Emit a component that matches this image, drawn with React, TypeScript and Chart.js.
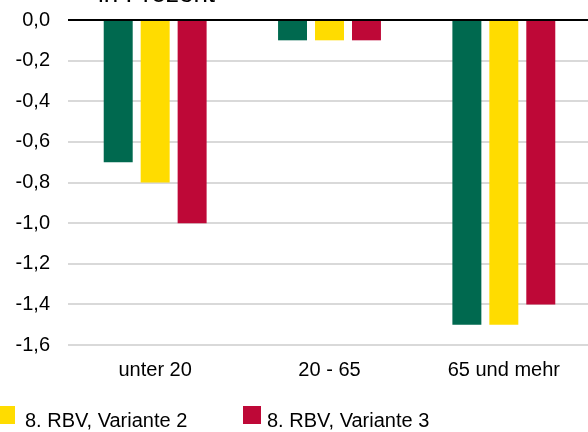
import React, { useEffect, useRef } from "react";
import { Chart, registerables } from "chart.js";

Chart.register(...registerables);

const categories = ["unter 20", "20 - 65", "65 und mehr"];
const seriesNames = ["8. RBV, Variante 1", "8. RBV, Variante 2", "8. RBV, Variante 3"];
const variante1 = [-0.7, -0.1, -1.5];
const variante2 = [-0.8, -0.1, -1.5];
const variante3 = [-1.0, -0.1, -1.4];
const colors = ["#00694F", "#FFDC00", "#BE0837"];
const yMin = -1.6;
const yMax = 0;
const yStep = 0.2;
const titleText = "in Prozent";

const FONT = "'Liberation Sans', Arial, sans-serif";

export default function App() {
  const ref = useRef<HTMLCanvasElement | null>(null);

  useEffect(() => {
    if (!ref.current) return;
    const chart = new Chart(ref.current, {
      type: "bar",
      data: {
        labels: categories,
        datasets: [variante1, variante2, variante3].map((d, i) => ({
          label: seriesNames[i],
          data: d,
          backgroundColor: colors[i],
          borderWidth: 0,
          categoryPercentage: 0.636,
          barPercentage: 0.784,
        })),
      },
      options: {
        responsive: false,
        animation: false,
        layout: { padding: { top: 20, left: 0, right: 0, bottom: 0 } },
        plugins: {
          legend: { display: false },
          title: { display: false },
          tooltip: { enabled: false },
        },
        scales: {
          x: {
            grid: { display: false, drawTicks: false },
            border: { display: false },
            ticks: {
              color: "#000",
              font: { family: FONT, size: 20 },
              padding: 13,
              maxRotation: 0,
            },
            afterFit: (s: any) => {
              s.height = 87;
              s.paddingLeft = 0;
              s.paddingRight = 0;
            },
          },
          y: {
            min: yMin,
            max: yMax,
            border: { display: false },
            grid: {
              drawTicks: false,
              lineWidth: 2,
              color: (ctx: any) => (ctx.tick && Math.abs(ctx.tick.value) < 1e-9 ? "#000" : "#D9D9D9"),
            },
            ticks: {
              stepSize: yStep,
              color: "#000",
              font: { family: FONT, size: 20 },
              padding: 18,
              callback: (v: any) => Number(v).toFixed(1).replace(".", ",").replace("-0,0", "0,0"),
            },
            afterFit: (s: any) => {
              s.width = 68;
              s.paddingTop = 0;
              s.paddingBottom = 0;
            },
          },
        },
      },
    });
    return () => chart.destroy();
  }, []);

  const textStyle: React.CSSProperties = {
    position: "absolute",
    fontFamily: FONT,
    fontSize: 20,
    lineHeight: "20px",
    color: "#000",
    whiteSpace: "nowrap",
  };

  return (
    <div
      style={{
        position: "fixed",
        left: 0,
        top: 0,
        width: 588,
        height: 432,
        overflow: "hidden",
        background: "#fff",
      }}
    >
      <canvas ref={ref} width={591} height={432} style={{ position: "absolute", left: 0, top: 0, width: 591, height: 432 }} />
      <div style={{ ...textStyle, fontSize: 26, lineHeight: "26px", left: 98, top: -20 }}>{titleText}</div>
      <div style={{ position: "absolute", left: -3, top: 406, width: 18, height: 18, background: colors[1] }} />
      <div style={{ ...textStyle, left: 25, top: 410 }}>{seriesNames[1]}</div>
      <div style={{ position: "absolute", left: 243, top: 406, width: 18, height: 18, background: colors[2] }} />
      <div style={{ ...textStyle, left: 267, top: 410 }}>{seriesNames[2]}</div>
    </div>
  );
}
